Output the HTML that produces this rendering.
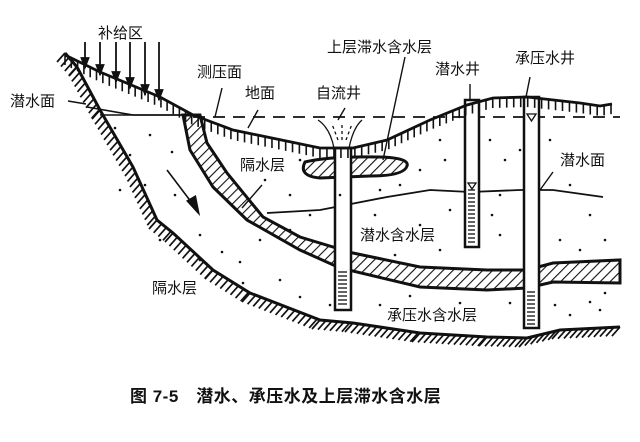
<!DOCTYPE html>
<html><head><meta charset="utf-8"><style>
html,body{margin:0;padding:0;background:#fff}
svg{display:block}
text{font-family:"Liberation Sans","Noto Sans CJK SC",sans-serif;fill:#111}
</style></head><body>
<svg id="s" width="640" height="442" viewBox="0 0 640 442" xmlns="http://www.w3.org/2000/svg">
<defs>
<pattern id="h" patternUnits="userSpaceOnUse" width="7" height="7" patternTransform="rotate(45)">
<line x1="0" y1="0" x2="0" y2="7" stroke="#111" stroke-width="2.2"/>
</pattern>
</defs>
<g id="g" fill="none" stroke="#111" stroke-width="2.5">
<path d="M200,115 L207,143 L227,173 L263,217 L300,237 L353,253 L420,267 L487,270 L527,270 L553,263 L620,260 L620,283 L553,282 L527,288 L487,290 L420,287 L340,268 L300,250 L247,220 L213,187 L190,150 L183,115 Z" fill="url(#h)" stroke-width="3"/>
<path d="M305,162 Q330,156 380,157 Q410,158 407,166 Q404,176 370,176 L320,178 Q298,176 305,162 Z" fill="url(#h)" stroke-width="3"/>
<path d="M87,107 L133,115 L193,115" stroke-width="1.6"/>
<line x1="100" y1="115" x2="193" y2="115" stroke-width="1.6"/>
<line x1="193" y1="117" x2="620" y2="117" stroke-width="1.7" stroke-dasharray="12 8"/>
<path d="M267,213 L320,210 L387,197 L430,190 L470,192 L520,190 L553,190 L603,197" stroke-width="1.8"/>
<line x1="167" y1="170" x2="195" y2="207" stroke-width="1.6"/>
<path d="M198,212 L188,201 L195,197 Z" fill="#111"/>
<g stroke-width="1.4">
<line x1="68" y1="101" x2="86" y2="104"/>
<line x1="222" y1="88" x2="215" y2="117"/>
<line x1="258" y1="110" x2="248" y2="128"/>
<line x1="345" y1="108" x2="338" y2="120"/>
<line x1="405" y1="57" x2="383" y2="160"/>
<line x1="470" y1="84" x2="470" y2="101"/>
<line x1="530" y1="77" x2="526" y2="97"/>
<line x1="553" y1="172" x2="540" y2="190"/>
<line x1="262" y1="185" x2="242" y2="208"/>
</g>
<g stroke-width="1.8" id="arr"></g>
<g stroke-width="1.3">
<path d="M334,148 Q330,128 318,120"/><path d="M349,148 Q353,128 362,120"/>
<path d="M338,140 L332,124" stroke-dasharray="3 3"/><path d="M342,140 L342,122" stroke-dasharray="3 3"/><path d="M346,140 L352,124" stroke-dasharray="3 3"/>
</g>
<rect x="335" y="148" width="16" height="162" fill="#fff"/>
<rect x="465" y="100" width="14" height="147" fill="#fff"/>
<rect x="524" y="97" width="15" height="231" fill="#fff"/>
<g stroke-width="1.3" id="scr"></g>
<path d="M468,183 L476,183 L472,189 Z" stroke-width="1.3"/>
<path d="M527,114 L536,114 L531.5,121 Z" stroke-width="1.3"/>
</g>
<g id="dots" fill="#111"></g>
<text x="98" y="38" font-size="15">补给区</text>
<text x="10" y="106" font-size="15">潜水面</text>
<text x="197" y="77" font-size="15">测压面</text>
<text x="245" y="98" font-size="15">地面</text>
<text x="316" y="98" font-size="15">自流井</text>
<text x="327" y="52" font-size="15">上层滞水含水层</text>
<text x="435" y="74" font-size="15">潜水井</text>
<text x="515" y="63" font-size="15">承压水井</text>
<text x="560" y="165" font-size="15">潜水面</text>
<text x="240" y="170" font-size="15">隔水层</text>
<text x="360" y="240" font-size="15">潜水含水层</text>
<text x="387" y="320" font-size="15">承压水含水层</text>
<text x="152" y="293" font-size="15">隔水层</text>
<text x="130" y="402" font-size="17" font-weight="bold" letter-spacing="0.5">图 7-5　潜水、承压水及上层滞水含水层</text>
</svg>
<script>
var NS="http://www.w3.org/2000/svg",g=document.getElementById('g');
function L(p,attrs){var e=document.createElementNS(NS,p);for(var k in attrs)e.setAttribute(k,attrs[k]);return e;}
function poly(pts,w){g.appendChild(L('polyline',{points:pts.map(function(p){return p.join(',')}).join(' '),'stroke-width':w||2.8}));}
function vticks(pts,len,sp){var carry=0;for(var i=0;i<pts.length-1;i++){var a=pts[i],b=pts[i+1],dx=b[0]-a[0],dy=b[1]-a[1],d=Math.hypot(dx,dy),ux=dx/d,uy=dy/d;var t=carry;while(t<d){var x=a[0]+ux*t,y=a[1]+uy*t;g.appendChild(L('line',{x1:x,y1:y,x2:x,y2:y+len,'stroke-width':1.6}));t+=sp;}carry=t-d;}}
var ground=[[65,55],[100,72],[160,97],[193,115],[233,130],[267,137],[320,148],[353,148],[387,140],[430,120],[467,105],[493,98],[527,97],[580,103],[600,106],[612,104]];
poly(ground);vticks(ground,10,7);
var bed=[[65,53],[77,67],[100,110],[133,167],[157,220],[173,233],[213,270],[250,293],[320,320],[353,323],[420,333],[487,337],[527,338],[560,330],[620,327]];
poly(bed,3);
(function(){for(var i=0;i<bed.length-1;i++){var a=bed[i],b=bed[i+1],dx=b[0]-a[0],dy=b[1]-a[1],d=Math.hypot(dx,dy);for(var t=0;t<d;t+=6){var x=a[0]+dx*t/d,y=a[1]+dy*t/d;g.appendChild(L('line',{x1:x,y1:y,x2:x-8,y2:y+9,'stroke-width':1.7}));}}})();
var arr=document.getElementById('arr');
[[85,68],[100,75],[116,82],[130,88],[145,95],[159,100]].forEach(function(p){arr.appendChild(L('line',{x1:p[0],y1:42,x2:p[0],y2:p[1]}));arr.appendChild(L('path',{d:'M'+(p[0]-3.5)+','+(p[1]-10)+' L'+(p[0]+3.5)+','+(p[1]-10)+' L'+p[0]+','+(p[1]-1)+' Z',fill:'#111'}));});
var scr=document.getElementById('scr');
function screen(x1,x2,y1,y2){for(var y=y1;y<y2;y+=4)scr.appendChild(L('line',{x1:x1+3,y1:y,x2:x2-4,y2:y}));}
screen(335,351,272,308);screen(465,479,190,244);screen(524,539,292,325);
var dots=document.getElementById('dots');
[[115,128],[150,135],[130,155],[172,152],[145,185],[120,190],[175,195],[160,240],[200,235],[222,252],[240,262],[200,260],[243,283],[280,280],[300,297],[330,305],[265,180],[290,195],[310,215],[340,195],[375,215],[400,185],[420,170],[445,160],[450,210],[490,140],[505,160],[500,195],[492,215],[550,140],[570,185],[590,215],[605,240],[580,250],[560,240],[500,235],[420,225],[395,255],[440,250],[380,305],[410,296],[460,303],[510,303],[555,305],[590,302],[605,293],[570,315],[600,310],[300,160],[290,230],[260,240],[380,190],[440,140],[520,150]].forEach(function(p){dots.appendChild(L('circle',{cx:p[0],cy:p[1],r:1.3}));});
</script>
</body></html>
